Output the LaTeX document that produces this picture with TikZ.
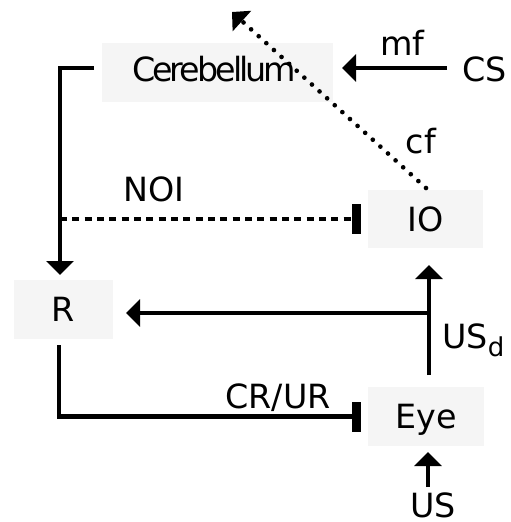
\documentclass[tikz,border=0pt]{standalone}
\usepackage{fontspec}
\setmainfont{DejaVu Sans}
\newfontfamily\tightfont[LetterSpace=-9]{DejaVu Sans}
\usetikzlibrary{arrows.meta,calc}
\definecolor{boxgray}{RGB}{245,245,245}
\begin{document}
\begin{tikzpicture}[x=0.75pt,y=-0.75pt,
  every node/.style={font=\fontsize{25}{30}\selectfont},
  box/.style={fill=boxgray, inner sep=0pt, text height=18.2pt, text depth=0pt},
  lab/.style={inner sep=0pt, anchor=base},
  conn/.style={line width=3.7pt, draw=black},
  arr/.style={conn, -{Triangle[length=10.5pt,width=20.25pt]}},
  inh/.style={conn, -{Rectangle[length=6.75pt,width=22.5pt]}},
  dotline/.style={line width=3.5pt, line cap=round, dash pattern=on 0pt off 7.7pt,
    -{Triangle[length=10.1pt,width=20.25pt]}},
]
\path[use as bounding box] (0,0) rectangle (511,522);

% boxes
\node[box, minimum width=173.25pt, minimum height=44.25pt] (cer) at (217.5,72.5) {\raisebox{2.6pt}{\tightfont Cerebellum}\kern5pt};
\node[box, minimum width=86.25pt, minimum height=43.5pt] (IO) at (425.5,219) {IO};
\node[box, minimum width=74.25pt, minimum height=44.25pt] (R) at (63.5,309.5) {R};
\node[box, minimum width=87pt, minimum height=44.25pt] (Eye) at (426,416.5) {Eye};

% labels
\node[lab] (CS) at (484.5,81.7) {CS};
\node[lab] (mf) at (402.5,55) {mf};
\node[lab] (cf) at (421,153) {cf};
\node[lab] (NOI) at (154,201.7) {NOI};
\node[lab, anchor=base west] (USd) at (442,348.5) {US\raisebox{-6pt}{\fontsize{19.5}{20}\selectfont d}};
\node[lab] (CRUR) at (278,408) {CR/UR};
\node[lab] (US) at (433,517.5) {US};

% connector end points
\coordinate (cerOut) at (94,68);
\coordinate (Rin) at (60,275);
\coordinate (noiStart) at (60,219);
\coordinate (IOin) at (361,219);
\coordinate (CSout) at (447,68);
\coordinate (cerIn) at (342,68);
\coordinate (IOtop) at (426,188);
\coordinate (cfEnd) at (232,12);
\coordinate (EyeTop) at (429,375);
\coordinate (IObot) at (429,265);
\coordinate (Rbranch) at (429,313);
\coordinate (Rin2) at (126,313);
\coordinate (Rout) at (59,345);
\coordinate (EyeIn) at (361,416.5);
\coordinate (USout) at (428,487);
\coordinate (EyeIn2) at (428,452);

% connectors
\draw[arr] (cerOut) -| (Rin);
\draw[inh, dash pattern=on 5.25pt off 4pt] (noiStart) -- (IOin);
\draw[arr] (CSout) -- (cerIn);
\draw[dotline] (IOtop) -- (cfEnd);
\draw[arr] (EyeTop) -- (IObot);
\draw[arr] (Rbranch) -- (Rin2);
\draw[inh] (Rout) |- (EyeIn);
\draw[arr] (USout) -- (EyeIn2);
\end{tikzpicture}
\end{document}
